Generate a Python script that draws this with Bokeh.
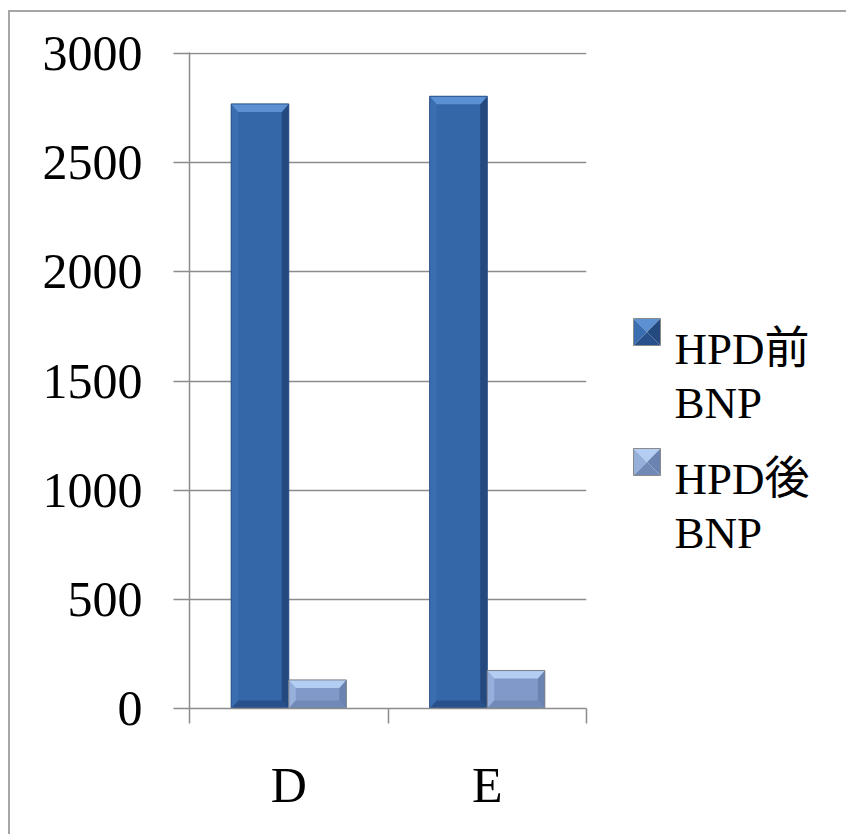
from bokeh.plotting import figure
from bokeh.layouts import row
from bokeh.models import Range1d, FixedTicker
from bokeh.core.properties import value
from bokeh.embed import file_html
from bokeh.resources import INLINE

# --- data -------------------------------------------------------------
categories = ["D", "E"]
before_bnp = [2770, 2805]      # HPD前 BNP
after_bnp = [131, 174]         # HPD後 BNP
series_labels = ["HPD前\nBNP", "HPD後\nBNP"]
y_ticks = [0, 500, 1000, 1500, 2000, 2500, 3000]

# --- layout constants ---------------------------------------------------
OFF_X, OFF_Y = 10, 12              # page offset of the chart-area border
H = 834 - OFF_Y
W_MAIN = 580
W_LEG = 849 - OFF_X - W_MAIN - 3
LEFT, RIGHT, TOP, BOTTOM = 179, 4, 40, 126
FRAME_W = W_MAIN - LEFT - RIGHT
FRAME_H = H - TOP - BOTTOM
Y_MAX = y_ticks[-1]
N = len(categories)
BAR_W = 0.29                       # bar width in category units
UX = N / FRAME_W                   # x units per pixel
UY = Y_MAX / FRAME_H               # y units per pixel
BEVEL_X = 7 * UX
BEVEL_Y = 8 * UY

FONT = "Liberation Serif, Noto Sans CJK JP"
GRID = "#8c8c8c"

p = figure(width=W_MAIN, height=H, output_backend="svg", toolbar_location=None,
           x_range=Range1d(0, N), y_range=Range1d(0, Y_MAX + 1.2 * UY),
           min_border_left=LEFT, min_border_right=RIGHT,
           min_border_top=TOP, min_border_bottom=BOTTOM)
p.outline_line_color = None
p.background_fill_color = "white"
p.border_fill_color = "white"

# grid
p.xgrid.visible = False
p.ygrid.ticker = FixedTicker(ticks=y_ticks)
p.ygrid.grid_line_color = GRID
p.ygrid.grid_line_width = 1.5

# y axis
p.yaxis.ticker = FixedTicker(ticks=y_ticks)
p.yaxis.axis_line_color = GRID
p.yaxis.axis_line_width = 1.5
p.yaxis.major_tick_line_color = GRID
p.yaxis.major_tick_line_width = 1.5
p.yaxis.major_tick_in = 0
p.yaxis.major_tick_out = 16
p.yaxis.minor_tick_line_color = None
p.yaxis.major_label_standoff = 31
p.yaxis.major_label_text_font = FONT
p.yaxis.major_label_text_font_size = "50px"
p.yaxis.major_label_text_color = "black"

# x axis: labels at category centres, tick marks at category boundaries
centres = [i + 0.5 for i in range(N)]
p.xaxis.ticker = FixedTicker(ticks=centres, minor_ticks=list(range(N + 1)))
p.xaxis.major_label_overrides = {c: lab for c, lab in zip(centres, categories)}
p.xaxis.axis_line_color = GRID
p.xaxis.axis_line_width = 1.5
p.xaxis.major_tick_line_color = None
p.xaxis.major_tick_in = 0
p.xaxis.major_tick_out = 15
p.xaxis.minor_tick_line_color = GRID
p.xaxis.minor_tick_line_width = 1.5
p.xaxis.minor_tick_in = 0
p.xaxis.minor_tick_out = 15
p.xaxis.major_label_standoff = 33
p.xaxis.major_label_text_font = FONT
p.xaxis.major_label_text_font_size = "50px"
p.xaxis.major_label_text_color = "black"

# bevelled bars
styles = [
    dict(body="#3467a8", top="#5b90d2", left="#3a6eb0", right="#24497e",
         bottom="#28508a", line="#2a5088"),
    dict(body="#8199c8", top="#b4cdf3", left="#96afdb", right="#6b83b1",
         bottom="#7089b6", line="#7a7f8a"),
]


def bevel_parts(x0s, x1s, tops, bx, by):
    parts = {k: ([], []) for k in ("top", "left", "right", "bottom")}
    for x0, x1, t in zip(x0s, x1s, tops):
        bxx = min(bx, (x1 - x0) / 2)
        byy = min(by, t / 2)
        parts["top"][0].append([x0, x1, x1 - bxx, x0 + bxx])
        parts["top"][1].append([t, t, t - byy, t - byy])
        parts["left"][0].append([x0, x0 + bxx, x0 + bxx, x0])
        parts["left"][1].append([t, t - byy, byy, 0])
        parts["right"][0].append([x1, x1, x1 - bxx, x1 - bxx])
        parts["right"][1].append([t, 0, byy, t - byy])
        parts["bottom"][0].append([x0, x1, x1 - bxx, x0 + bxx])
        parts["bottom"][1].append([0, 0, byy, byy])
    return parts


for k, values in enumerate([before_bnp, after_bnp]):
    st = styles[k]
    x0s = [c - BAR_W + k * BAR_W for c in centres]
    x1s = [x + BAR_W for x in x0s]
    p.quad(left=x0s, right=x1s, bottom=0, top=values,
           fill_color=st["body"], line_color=None)
    parts = bevel_parts(x0s, x1s, values, BEVEL_X, BEVEL_Y)
    for name in ("left", "right", "bottom", "top"):
        xs, ys = parts[name]
        p.patches(xs, ys, fill_color=st[name], line_color=None)
    p.quad(left=x0s, right=x1s, bottom=0, top=values,
           fill_color=None, line_color=st["line"], line_width=1)

# --- legend panel: ranges in page pixels, y grows downward ----------------
PAGE_X0 = OFF_X + W_MAIN
PAGE_TOP = OFF_Y + TOP
leg = figure(width=W_LEG, height=H, output_backend="svg", toolbar_location=None,
             x_range=Range1d(PAGE_X0, PAGE_X0 + W_LEG),
             y_range=Range1d(PAGE_TOP + FRAME_H, PAGE_TOP),
             x_axis_type=None, y_axis_type=None,
             min_border_left=0, min_border_right=0,
             min_border_top=TOP, min_border_bottom=BOTTOM)
leg.outline_line_color = None
leg.xgrid.visible = False
leg.ygrid.visible = False

MK_X, MK_Y0, MK = 633, 318, 27     # marker left, first marker top, size
ENTRY_STEP = 130
TXT_X, BASE0, LINE_STEP = 674, 348, 54

for k, lab in enumerate(series_labels):
    st = styles[k]
    y0 = MK_Y0 + k * ENTRY_STEP
    x0, x1, y1 = MK_X, MK_X + MK, y0 + MK
    cx, cy = (x0 + x1) / 2, (y0 + y1) / 2
    # four facets meeting in the middle
    leg.patches([[x0, x1, cx], [x0, cx, x0], [x1, x1, cx], [x0, x1, cx]],
                [[y0, y0, cy], [y0, cy, y1], [y0, y1, cy], [y1, y1, cy]],
                fill_color=[st["top"], st["left"], st["right"], st["bottom"]],
                line_color=None)
    leg.quad(left=[x0], right=[x1], top=[y0], bottom=[y1],
             fill_color=None, line_color="#8a8a8a", line_width=1)
    lines = lab.split("\n")
    leg.text(x=[TXT_X] * len(lines),
             y=[BASE0 + k * ENTRY_STEP + j * LINE_STEP for j in range(len(lines))],
             text=lines, text_font=value(FONT), text_font_size=value("45px"),
             text_color="black", text_baseline="alphabetic", text_align="left")

layout = row(p, leg, margin=(10, 0, 0, 8),
             styles={"border-left": "2px solid #a6a6a6",
                     "border-top": "2px solid #a6a6a6"})

open("out.html", "w").write(file_html(layout, INLINE))
